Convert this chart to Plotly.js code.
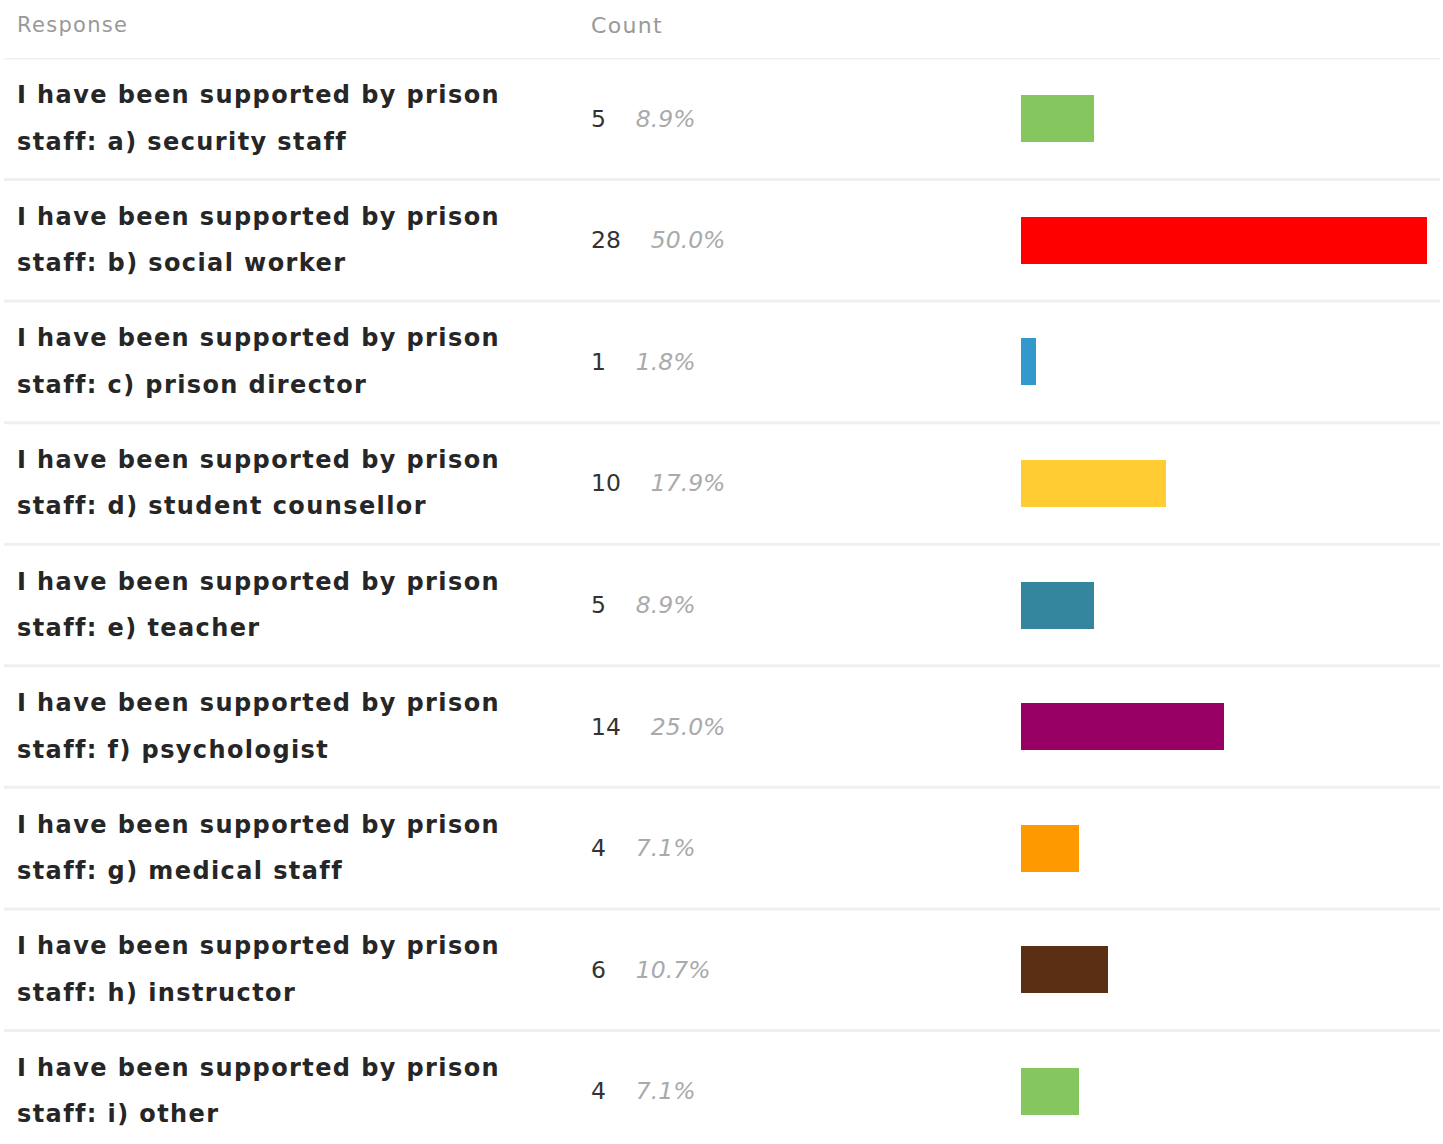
<!DOCTYPE html>
<html>
<head>
<meta charset="utf-8">
<script src="https://cdn.plot.ly/plotly-3.0.1.min.js"></script>
<style>
  html, body { margin: 0; padding: 0; background: #fff; }
  #chart { width: 1443px; height: 1144px; }
</style>
</head>
<body>
<div id="chart"></div>
<script>
// ---- data ----
const responses = [
  "I have been supported by prison staff: a) security staff",
  "I have been supported by prison staff: b) social worker",
  "I have been supported by prison staff: c) prison director",
  "I have been supported by prison staff: d) student counsellor",
  "I have been supported by prison staff: e) teacher",
  "I have been supported by prison staff: f) psychologist",
  "I have been supported by prison staff: g) medical staff",
  "I have been supported by prison staff: h) instructor",
  "I have been supported by prison staff: i) other"
];
const counts = [5, 28, 1, 10, 5, 14, 4, 6, 4];
const percents = ["8.9%", "50.0%", "1.8%", "17.9%", "8.9%", "25.0%", "7.1%", "10.7%", "7.1%"];
const barColors = ["#85c75e", "#ff0000", "#3399cc", "#ffcc33", "#33869e", "#990066", "#ff9900", "#5a2f14", "#85c75e"];
const headers = ["Response", "Count"];

// ---- layout geometry (pixels of the 1443x1144 figure) ----
const W = 1443, H = 1144;
const px = x => x / W;
const py = y => 1 - y / H;
const headerBottom = 58;
const rowPitch = 121.56;
const visibleRows = (H - headerBottom) / rowPitch;
const idx = counts.map((_, i) => i);

const trace = {
  type: 'bar',
  orientation: 'h',
  x: counts,
  y: idx,
  width: 47 / rowPitch,
  marker: { color: barColors, line: { width: 0 } },
  hoverinfo: 'skip'
};

const annotations = [];
const spacing = [];
const font = 'DejaVu Sans, sans-serif';
annotations.push({ xref: 'paper', yref: 'paper', x: px(15), y: py(25), xanchor: 'left', yanchor: 'middle', align: 'left',
  text: headers[0], showarrow: false, font: { family: font, size: 21, color: '#999999' } });
spacing.push('1.3px');
annotations.push({ xref: 'paper', yref: 'paper', x: px(589), y: py(25), xanchor: 'left', yanchor: 'middle', align: 'left',
  text: headers[1], showarrow: false, font: { family: font, size: 22, color: '#999999' } });
spacing.push('1.3px');

responses.forEach((r, i) => {
  const cut = r.indexOf('prison ') + 'prison'.length;
  const line1 = r.slice(0, cut);
  const line2 = r.slice(cut + 1);
  annotations.push({ xref: 'paper', yref: 'y', x: px(15), y: i, yshift: 23.5, xanchor: 'left', yanchor: 'middle', align: 'left',
    text: line1, showarrow: false, font: { family: font, size: 24, color: '#262626', weight: 'bold' } });
  spacing.push('1.4px');
  annotations.push({ xref: 'paper', yref: 'y', x: px(15), y: i, yshift: -23, xanchor: 'left', yanchor: 'middle', align: 'left',
    text: line2, showarrow: false, font: { family: font, size: 24, color: '#262626', weight: 'bold' } });
  spacing.push('1.4px');
  annotations.push({ xref: 'paper', yref: 'y', x: px(588.5), y: i, xanchor: 'left', yanchor: 'middle', align: 'left',
    text: counts[i] + '&nbsp;&nbsp;&nbsp;&nbsp;<span style="color:#aaaaaa"><i>' + percents[i] + '</i></span>',
    showarrow: false, font: { family: font, size: 23.5, color: '#333333' } });
  spacing.push('0px');
});

// letter spacing per annotation (text is start-anchored, so only the right side grows)
const css = spacing.map((s, k) =>
  '.annotation[data-index="' + k + '"] .annotation-text { letter-spacing: ' + s + '; }').join('\n');
const styleEl = document.createElement('style');
styleEl.textContent = css;
document.head.appendChild(styleEl);

const shapes = [];
for (let i = 0; i < responses.length; i++) {
  shapes.push({ type: 'line', xref: 'paper', yref: 'y', x0: px(4), x1: px(1440), y0: i - 0.5, y1: i - 0.5,
    line: { color: '#efefef', width: 3 }, layer: 'below' });
}

const layout = {
  width: W, height: H,
  margin: { l: 0, r: 0, t: 0, b: 0, pad: 0 },
  paper_bgcolor: '#ffffff', plot_bgcolor: '#ffffff',
  showlegend: false,
  bargap: 0,
  xaxis: { domain: [px(1021), px(1427)], range: [0, 28], visible: false, fixedrange: true },
  yaxis: { domain: [0, py(headerBottom)], range: [-0.5 + visibleRows, -0.5], visible: false, fixedrange: true },
  annotations: annotations,
  shapes: shapes
};

Plotly.newPlot('chart', [trace], layout, { displayModeBar: false, staticPlot: true });
</script>
</body>
</html>
